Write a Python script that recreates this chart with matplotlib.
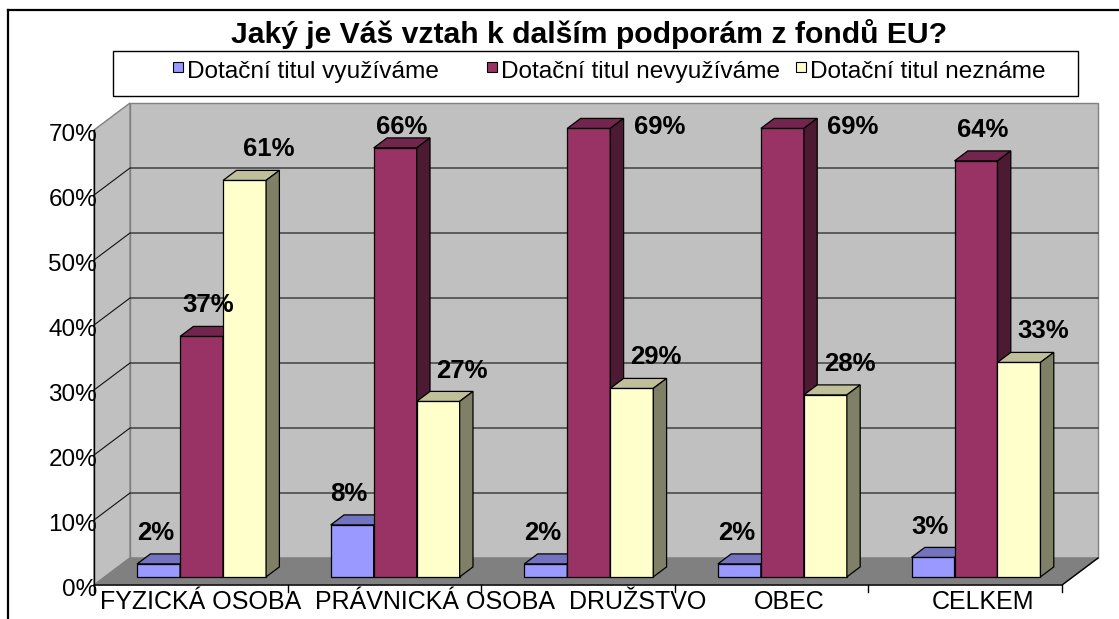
import matplotlib
matplotlib.use('Agg')
import matplotlib.pyplot as plt
from matplotlib.patches import Polygon, Rectangle
from matplotlib.lines import Line2D
from matplotlib.colors import to_rgb

plt.rcParams['font.family'] = ['Liberation Sans', 'DejaVu Sans']

title = 'Jaký je Váš vztah k dalším podporám z fondů EU?'
categories = ['FYZICKÁ OSOBA', 'PRÁVNICKÁ OSOBA', 'DRUŽSTVO', 'OBEC', 'CELKEM']
series_names = ['Dotační titul využíváme', 'Dotační titul nevyužíváme', 'Dotační titul neznáme']
vyuzivame = [2, 8, 2, 2, 3]
nevyuzivame = [37, 66, 69, 69, 64]
nezname = [61, 27, 29, 28, 33]
y_ticks = [0, 10, 20, 30, 40, 50, 60, 70]

series = [vyuzivame, nevyuzivame, nezname]
fronts = ['#9999FF', '#993366', '#FFFFCC']


def shade(c, f):
    r, g, b = to_rgb(c)
    return (r * f, g * f, b * f)


W, H = 1119, 619
fig = plt.figure(figsize=(W / 100, H / 100), dpi=100)
ax = fig.add_axes([0, 0, 1, 1])
# front plane: x in categories, y in percent
XS, YS = 193.6, 6.5          # pixels per category / per percent
X0, Y0 = 94, 585             # pixel of the origin (front left, 0%)
ax.set_xlim(-X0 / XS, (W - X0) / XS)
ax.set_ylim((Y0 - H) / YS, Y0 / YS)
ax.axis('off')

DX, DY = 36 / XS, 27 / YS    # depth of the box
ncat = len(categories)
ymax = y_ticks[-1]


def fx(px):
    return px / W


def fy(py):
    return 1 - py / H


# outer chart border (cut at right and bottom)
fig.add_artist(Line2D([fx(8), fx(8)], [fy(10), 0], color='black', lw=1.6, transform=fig.transFigure))
fig.add_artist(Line2D([fx(8), 1], [fy(10), fy(10)], color='black', lw=1.6, transform=fig.transFigure))

wall = '#C0C0C0'
edge = '#808080'
# back wall
ax.add_patch(Polygon([(DX, DY), (ncat + DX, DY), (ncat + DX, ymax + DY), (DX, ymax + DY)],
                     closed=True, fc=wall, ec=edge, lw=1, zorder=1))
# side wall
ax.add_patch(Polygon([(0, 0), (DX, DY), (DX, ymax + DY), (0, ymax)],
                     closed=True, fc=wall, ec=edge, lw=1, zorder=1))
# gridlines
for v in y_ticks[1:-1]:
    ax.plot([0, DX, ncat + DX], [v, v + DY, v + DY], color='#111111', lw=0.8, zorder=1.5)
# floor
ax.add_patch(Polygon([(0, 0), (ncat, 0), (ncat + DX, DY), (DX, DY)],
                     closed=True, fc='#808080', ec='#808080', lw=1, zorder=1.6))
# axes lines
ax.plot([0, 0], [0, ymax], color='black', lw=1, zorder=1.7)
ax.plot([0, ncat, ncat + DX], [0, 0, DY], color='black', lw=1, zorder=1.7)
for i in range(ncat + 1):
    ax.plot([i, i], [0, -7 / YS], color='black', lw=1, zorder=1.7)

for v in y_ticks:
    ax.text(3 / XS, v - 0.7, f'{v}%', ha='right', va='center', fontsize=17.5, zorder=6)

# bars
w = 0.222
g = (1 - 3 * w) / 2
t0, t1 = 0.3, 0.67
ax0, ay0 = DX * t0, DY * t0
ax1, ay1 = DX * t1, DY * t1
label_dx = [-0.05, 0.0, 0.09]
for i in range(ncat):
    for k, vals in enumerate(series):
        v = vals[i]
        x0 = i + g + k * w
        c = fronts[k]
        front = [(x0 + ax0, ay0), (x0 + w + ax0, ay0), (x0 + w + ax0, v + ay0), (x0 + ax0, v + ay0)]
        top = [(x0 + ax0, v + ay0), (x0 + w + ax0, v + ay0), (x0 + w + ax1, v + ay1), (x0 + ax1, v + ay1)]
        side = [(x0 + w + ax0, ay0), (x0 + w + ax1, ay1), (x0 + w + ax1, v + ay1), (x0 + w + ax0, v + ay0)]
        ax.add_patch(Polygon(front, closed=True, fc=c, ec='black', lw=0.9, zorder=3))
        ax.add_patch(Polygon(top, closed=True, fc=shade(c, 0.75), ec='black', lw=0.9, zorder=3))
        ax.add_patch(Polygon(side, closed=True, fc=shade(c, 0.5), ec='black', lw=0.9, zorder=3))
        ly = min(v + 6.0, 70.5)
        if v + 6.4 > ymax + DY:
            ax.text(x0 + w + ax1 + 10 / XS, ly, f'{v}%', ha='left', va='center',
                    fontsize=18.5, fontweight='bold', zorder=6)
        else:
            ax.text(x0 + w / 2 + (ax0 + ax1) / 2 + label_dx[k], ly, f'{v}%', ha='center', va='center',
                    fontsize=18.5, fontweight='bold', zorder=6)

# category labels, spread apart when they would overlap
cat_texts = []
for i, name in enumerate(categories):
    cat_texts.append(ax.text(i + 0.5 + DX / 2, -2.6, name, ha='center', va='center', fontsize=18, zorder=6))
fig.canvas.draw()
renderer = fig.canvas.get_renderer()
gap = 14
boxes = [[t.get_window_extent(renderer).x0, t.get_window_extent(renderer).x1] for t in cat_texts]
moved = [False] * ncat
for i in range(1, ncat):
    over = boxes[i - 1][1] + gap - boxes[i][0]
    if over > 0:
        if not moved[i - 1]:
            boxes[i - 1][0] -= over / 2
            boxes[i - 1][1] -= over / 2
            boxes[i][0] += over / 2
            boxes[i][1] += over / 2
        else:
            boxes[i][0] += over
            boxes[i][1] += over
        moved[i - 1] = moved[i] = True
# keep the first label clear of the "0%" tick label
left_min = X0 + 6
if boxes[0][0] < left_min:
    d = left_min - boxes[0][0]
    boxes[0] = [boxes[0][0] + d, boxes[0][1] + d]
for i in range(1, ncat):
    over = boxes[i - 1][1] + gap - boxes[i][0]
    if over > 0:
        boxes[i] = [boxes[i][0] + over, boxes[i][1] + over]
for t, b in zip(cat_texts, boxes):
    x, y = t.get_position()
    t.set_position((((b[0] + b[1]) / 2 - X0) / XS, y))

# title
fig.text(fx(589), fy(43), title, ha='center', va='baseline', fontsize=21.7, fontweight='bold')

# legend
fig.add_artist(Rectangle((fx(113), fy(96)), (1078 - 113) / W, 45 / H, transform=fig.transFigure,
                         fc='white', ec='black', lw=1))
leg_x = [173, 487, 796]
for k, name in enumerate(series_names):
    fig.add_artist(Rectangle((fx(leg_x[k]), fy(72)), 10 / W, 10 / H, transform=fig.transFigure,
                             fc=fronts[k], ec='black', lw=0.8))
    fig.text(fx(leg_x[k] + 14), fy(78), name, ha='left', va='baseline', fontsize=17.6)

fig.savefig('out.png', dpi=100)
